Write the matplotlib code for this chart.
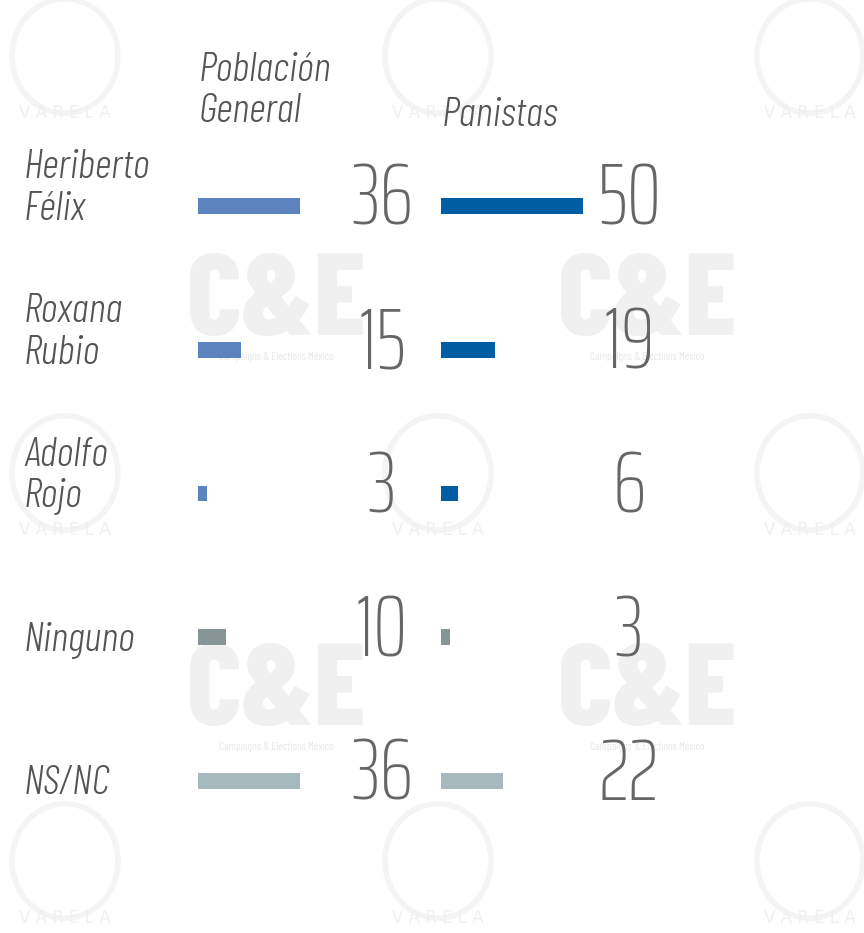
import numpy as np
import matplotlib
matplotlib.use('Agg')
import matplotlib.pyplot as plt

# data
candidates = ['Heriberto\nFélix', 'Roxana\nRubio', 'Adolfo\nRojo', 'Ninguno', 'NS/NC']
general = [36, 15, 3, 10, 36]
panistas = [50, 19, 6, 3, 22]
col_titles = ['Población\nGeneral', 'Panistas']

general_colors = ['#5b84bf', '#5b84bf', '#5b84bf', '#869696', '#a8b9bd']
panistas_colors = ['#005da4', '#005da4', '#005da4', '#869696', '#a8b9bd']

FONT = ['Barlow Condensed', 'DejaVu Sans']
NUMFONT = ['Saira ExtraCondensed', 'Barlow Condensed', 'DejaVu Sans']
TXT = '#555555'
NUM = '#666666'

W, H = 864, 933
fig = plt.figure(figsize=(W / 100, H / 100), dpi=100)
fig.patch.set_facecolor('white')

# faint watermarks
WM = '#f0f0f0'
for cx, cy in [(276, 305), (647, 305), (276, 695), (647, 695)]:
    fig.text(cx / W, 1 - cy / H, 'C&E', ha='center', va='center', fontsize=84,
             fontweight='heavy', color=WM, family=FONT, zorder=-2)
    fig.text(cx / W, 1 - (cy + 52) / H, 'Campaigns & Elections México', ha='center',
             va='center', fontsize=8, color='#e8e8e8', family=FONT, zorder=-2)
for cx, cy in [(65, 113), (438, 113), (810, 113), (65, 530), (438, 530), (810, 530),
               (65, 918), (438, 918), (810, 918)]:
    fig.text(cx / W, 1 - cy / H, 'V A R E L A', ha='center', va='center', fontsize=12,
             color=WM, zorder=-2)
    circ = plt.Circle((cx / W, 1 - (cy - 57) / H), 53 / W, transform=fig.transFigure,
                      fill=False, lw=4, ec='#f4f4f4', zorder=-3)
    fig.patches.append(circ)

# bar axes: 2.84 px per unit
px_unit = 2.84
top, bottom = 134, 853
def make_ax(x0):
    ax = fig.add_axes([x0 / W, 1 - bottom / H, 230 / W, (bottom - top) / H])
    ax.set_xlim(0, 230 / px_unit)
    ax.set_ylim(len(candidates) - 0.5, -0.5)
    ax.axis('off')
    return ax

y = np.arange(len(candidates))
ax1 = make_ax(198)
ax2 = make_ax(441)
ax1.barh(y, general, height=0.11, color=general_colors)
ax2.barh(y, panistas, height=0.11, color=panistas_colors)

for i, v in enumerate(general):
    ax1.text(64.8, i - 0.04, str(v), ha='center', va='center', fontsize=62,
             style='italic', fontweight=250, color=NUM, family=NUMFONT)
for i, v in enumerate(panistas):
    ax2.text(66.2, i - 0.04, str(v), ha='center', va='center', fontsize=62,
             style='italic', fontweight=250, color=NUM, family=NUMFONT)

# category labels
for i, name in enumerate(candidates):
    off = -0.12 if '\n' in name else 0.02
    ax1.text(-174 / px_unit, i + off, name, ha='left', va='center', fontsize=30,
             style='italic', fontweight=300, color=TXT, family=FONT, linespacing=1.15)

# column titles
fig.text(199 / W, 1 - 91 / H, col_titles[0], ha='left', va='center', fontsize=30,
         style='italic', fontweight=300, color=TXT, family=FONT, linespacing=1.15)
fig.text(442 / W, 1 - 115 / H, col_titles[1], ha='left', va='center', fontsize=30,
         style='italic', fontweight=300, color=TXT, family=FONT)

fig.savefig('out.png', dpi=100, facecolor='white')
